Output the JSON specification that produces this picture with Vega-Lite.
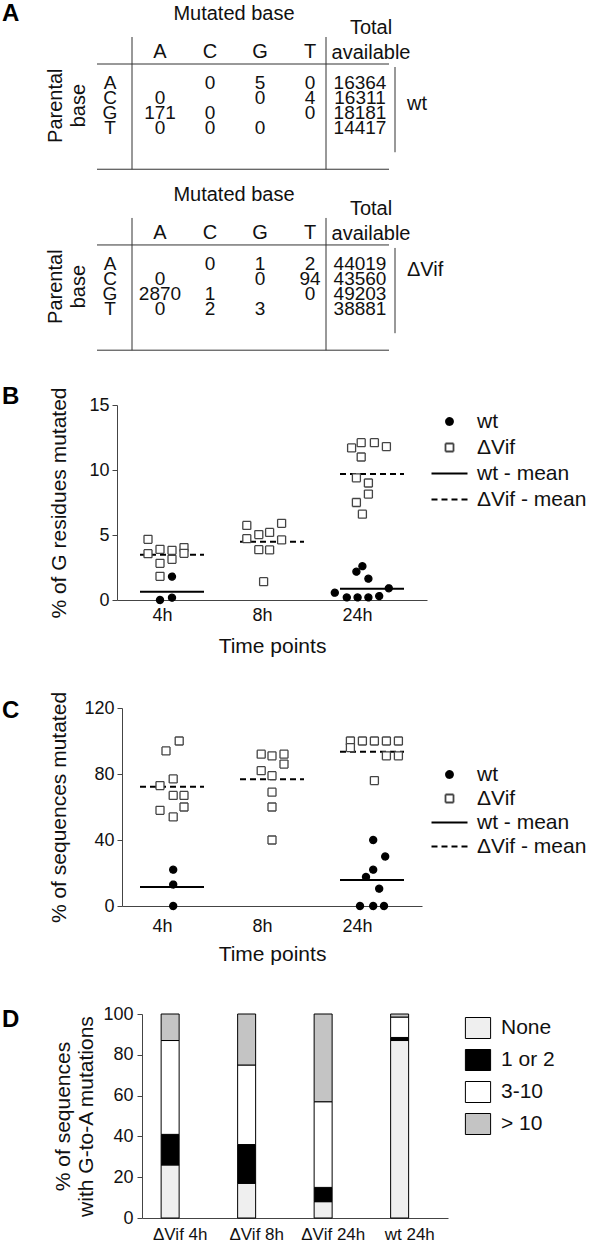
{
  "$schema": "https://vega.github.io/schema/vega-lite/v6.json",
  "padding": {"left": 2, "top": 0, "right": 0, "bottom": 0},
  "bounds": "flush",
  "spacing": 108,
  "resolve": {
    "scale": {"fill": "independent", "stroke": "independent", "shape": "independent", "strokeDash": "independent"},
    "legend": {"fill": "independent", "stroke": "independent", "shape": "independent", "strokeDash": "independent"}
  },
  "config": {
    "font": "Liberation Sans",
    "view": {"stroke": null},
    "axis": {"labelFont": "Liberation Sans", "titleFont": "Liberation Sans", "labelColor": "#111", "titleColor": "#111", "domainColor": "#444", "tickColor": "#444", "grid": false, "titleFontWeight": "normal", "labelFontSize": 18, "titleFontSize": 21},
    "legend": {"labelFont": "Liberation Sans", "labelColor": "#111"},
    "text": {"font": "Liberation Sans", "color": "#111"},
    "title": {"font": "Liberation Sans", "fontSize": 24, "fontWeight": "bold", "color": "#000"}
  },
  "datasets": {
    "tcells": [
      {"row": "wt A", "col": "C", "n": "0"}, {"row": "wt A", "col": "G", "n": "5"}, {"row": "wt A", "col": "T", "n": "0"}, {"row": "wt A", "col": "Tot", "n": "16364"},
      {"row": "wt C", "col": "A", "n": "0"}, {"row": "wt C", "col": "G", "n": "0"}, {"row": "wt C", "col": "T", "n": "4"}, {"row": "wt C", "col": "Tot", "n": "16311"},
      {"row": "wt G", "col": "A", "n": "171"}, {"row": "wt G", "col": "C", "n": "0"}, {"row": "wt G", "col": "T", "n": "0"}, {"row": "wt G", "col": "Tot", "n": "18181"},
      {"row": "wt T", "col": "A", "n": "0"}, {"row": "wt T", "col": "C", "n": "0"}, {"row": "wt T", "col": "G", "n": "0"}, {"row": "wt T", "col": "Tot", "n": "14417"},
      {"row": "ΔVif A", "col": "C", "n": "0"}, {"row": "ΔVif A", "col": "G", "n": "1"}, {"row": "ΔVif A", "col": "T", "n": "2"}, {"row": "ΔVif A", "col": "Tot", "n": "44019"},
      {"row": "ΔVif C", "col": "A", "n": "0"}, {"row": "ΔVif C", "col": "G", "n": "0"}, {"row": "ΔVif C", "col": "T", "n": "94"}, {"row": "ΔVif C", "col": "Tot", "n": "43560"},
      {"row": "ΔVif G", "col": "A", "n": "2870"}, {"row": "ΔVif G", "col": "C", "n": "1"}, {"row": "ΔVif G", "col": "T", "n": "0"}, {"row": "ΔVif G", "col": "Tot", "n": "49203"},
      {"row": "ΔVif T", "col": "A", "n": "0"}, {"row": "ΔVif T", "col": "C", "n": "2"}, {"row": "ΔVif T", "col": "G", "n": "3"}, {"row": "ΔVif T", "col": "Tot", "n": "38881"}
    ],
    "tlab": [
      {"kind": "hdr", "row": "wt A", "col": "A", "txt": "A"}, {"kind": "hdr", "row": "wt A", "col": "C", "txt": "C"}, {"kind": "hdr", "row": "wt A", "col": "G", "txt": "G"}, {"kind": "hdr", "row": "wt A", "col": "T", "txt": "T"},
      {"kind": "hdr", "row": "ΔVif A", "col": "A", "txt": "A"}, {"kind": "hdr", "row": "ΔVif A", "col": "C", "txt": "C"}, {"kind": "hdr", "row": "ΔVif A", "col": "G", "txt": "G"}, {"kind": "hdr", "row": "ΔVif A", "col": "T", "txt": "T"},
      {"kind": "rl", "row": "wt A", "col": "rl", "txt": "A"}, {"kind": "rl", "row": "wt C", "col": "rl", "txt": "C"}, {"kind": "rl", "row": "wt G", "col": "rl", "txt": "G"}, {"kind": "rl", "row": "wt T", "col": "rl", "txt": "T"},
      {"kind": "rl", "row": "ΔVif A", "col": "rl", "txt": "A"}, {"kind": "rl", "row": "ΔVif C", "col": "rl", "txt": "C"}, {"kind": "rl", "row": "ΔVif G", "col": "rl", "txt": "G"}, {"kind": "rl", "row": "ΔVif T", "col": "rl", "txt": "T"},
      {"kind": "tot", "row": "wt A", "col": "Tot", "txt": "Total\navailable"}, {"kind": "tot", "row": "ΔVif A", "col": "Tot", "txt": "Total\navailable"},
      {"kind": "mb", "row": "wt A", "col": "C", "txt": "Mutated base"}, {"kind": "mb", "row": "ΔVif A", "col": "C", "txt": "Mutated base"},
      {"kind": "pb", "row": "wt C", "col": "pb", "txt": "Parental\nbase"}, {"kind": "pb", "row": "ΔVif C", "col": "pb", "txt": "Parental\nbase"},
      {"kind": "grp", "row": "wt C", "col": "grp", "txt": "wt"}, {"kind": "grp", "row": "ΔVif A", "col": "grp", "txt": "ΔVif"}
    ],
    "tlines": [{"top": "wt A", "bot": "wt T"}, {"top": "ΔVif A", "bot": "ΔVif T"}],
    "bPts": [
      {"time": "4h", "series": "ΔVif", "slot": -2, "v": 4.67}, {"time": "4h", "series": "ΔVif", "slot": -2, "v": 3.56}, {"time": "4h", "series": "ΔVif", "slot": -1, "v": 3.9}, {"time": "4h", "series": "ΔVif", "slot": -1, "v": 2.82}, {"time": "4h", "series": "ΔVif", "slot": -1, "v": 1.82}, {"time": "4h", "series": "ΔVif", "slot": 0, "v": 3.82}, {"time": "4h", "series": "ΔVif", "slot": 0, "v": 3.13}, {"time": "4h", "series": "ΔVif", "slot": 1, "v": 4.03}, {"time": "4h", "series": "ΔVif", "slot": 1, "v": 3.59},
      {"time": "4h", "series": "wt", "slot": 0, "v": 1.8}, {"time": "4h", "series": "wt", "slot": -1, "v": 0}, {"time": "4h", "series": "wt", "slot": 0, "v": 0.18},
      {"time": "8h", "series": "ΔVif", "slot": -2.1, "v": 5.74}, {"time": "8h", "series": "ΔVif", "slot": -2.1, "v": 4.72}, {"time": "8h", "series": "ΔVif", "slot": -1.1, "v": 5.03}, {"time": "8h", "series": "ΔVif", "slot": -1.1, "v": 3.87}, {"time": "8h", "series": "ΔVif", "slot": -0.2, "v": 5.2}, {"time": "8h", "series": "ΔVif", "slot": -0.2, "v": 3.85}, {"time": "8h", "series": "ΔVif", "slot": -0.7, "v": 1.41}, {"time": "8h", "series": "ΔVif", "slot": 0.8, "v": 5.9}, {"time": "8h", "series": "ΔVif", "slot": 0.8, "v": 4.62},
      {"time": "24h", "series": "ΔVif", "slot": -1.7, "v": 11.7}, {"time": "24h", "series": "ΔVif", "slot": -0.9, "v": 12.1}, {"time": "24h", "series": "ΔVif", "slot": 0.2, "v": 12.1}, {"time": "24h", "series": "ΔVif", "slot": 1.2, "v": 11.8}, {"time": "24h", "series": "ΔVif", "slot": -0.9, "v": 11.0}, {"time": "24h", "series": "ΔVif", "slot": -1.3, "v": 9.4}, {"time": "24h", "series": "ΔVif", "slot": -0.3, "v": 9.0}, {"time": "24h", "series": "ΔVif", "slot": -0.3, "v": 8.15}, {"time": "24h", "series": "ΔVif", "slot": -1.3, "v": 7.5}, {"time": "24h", "series": "ΔVif", "slot": -0.8, "v": 6.6},
      {"time": "24h", "series": "wt", "slot": -1.3, "v": 2.18}, {"time": "24h", "series": "wt", "slot": -0.8, "v": 2.6}, {"time": "24h", "series": "wt", "slot": -0.3, "v": 1.64}, {"time": "24h", "series": "wt", "slot": 1.4, "v": 0.9}, {"time": "24h", "series": "wt", "slot": -3.1, "v": 0.56}, {"time": "24h", "series": "wt", "slot": -2.1, "v": 0.2}, {"time": "24h", "series": "wt", "slot": -1.2, "v": 0.2}, {"time": "24h", "series": "wt", "slot": -0.3, "v": 0.2}, {"time": "24h", "series": "wt", "slot": 0.6, "v": 0.3}
    ],
    "bMeans": [
      {"time": "4h", "series": "wt - mean", "v": 0.64}, {"time": "4h", "series": "ΔVif - mean", "v": 3.49},
      {"time": "8h", "series": "ΔVif - mean", "v": 4.49},
      {"time": "24h", "series": "wt - mean", "v": 0.87}, {"time": "24h", "series": "ΔVif - mean", "v": 9.7}
    ],
    "cPts": [
      {"time": "4h", "series": "ΔVif", "slot": 0.6, "v": 100}, {"time": "4h", "series": "ΔVif", "slot": -0.5, "v": 94}, {"time": "4h", "series": "ΔVif", "slot": 0.1, "v": 77}, {"time": "4h", "series": "ΔVif", "slot": -1, "v": 73}, {"time": "4h", "series": "ΔVif", "slot": 0.1, "v": 67}, {"time": "4h", "series": "ΔVif", "slot": 1, "v": 67}, {"time": "4h", "series": "ΔVif", "slot": 1, "v": 60}, {"time": "4h", "series": "ΔVif", "slot": -1, "v": 58}, {"time": "4h", "series": "ΔVif", "slot": 0.1, "v": 54},
      {"time": "4h", "series": "wt", "slot": 0.1, "v": 22}, {"time": "4h", "series": "wt", "slot": 0.1, "v": 13}, {"time": "4h", "series": "wt", "slot": 0.1, "v": 0},
      {"time": "8h", "series": "ΔVif", "slot": -0.9, "v": 92}, {"time": "8h", "series": "ΔVif", "slot": 0, "v": 91}, {"time": "8h", "series": "ΔVif", "slot": 1, "v": 92}, {"time": "8h", "series": "ΔVif", "slot": 1, "v": 86}, {"time": "8h", "series": "ΔVif", "slot": -0.9, "v": 82}, {"time": "8h", "series": "ΔVif", "slot": 0, "v": 79}, {"time": "8h", "series": "ΔVif", "slot": 0, "v": 69}, {"time": "8h", "series": "ΔVif", "slot": 0, "v": 60}, {"time": "8h", "series": "ΔVif", "slot": 0, "v": 40},
      {"time": "24h", "series": "ΔVif", "slot": -1.8, "v": 100}, {"time": "24h", "series": "ΔVif", "slot": -0.8, "v": 100}, {"time": "24h", "series": "ΔVif", "slot": 0.2, "v": 100}, {"time": "24h", "series": "ΔVif", "slot": 1.2, "v": 100}, {"time": "24h", "series": "ΔVif", "slot": 2.2, "v": 100}, {"time": "24h", "series": "ΔVif", "slot": -1.8, "v": 96}, {"time": "24h", "series": "ΔVif", "slot": 1.2, "v": 91}, {"time": "24h", "series": "ΔVif", "slot": 2.2, "v": 91}, {"time": "24h", "series": "ΔVif", "slot": 0.2, "v": 76},
      {"time": "24h", "series": "wt", "slot": 0.1, "v": 40}, {"time": "24h", "series": "wt", "slot": 1.1, "v": 30}, {"time": "24h", "series": "wt", "slot": 0.1, "v": 22}, {"time": "24h", "series": "wt", "slot": -0.5, "v": 17.6}, {"time": "24h", "series": "wt", "slot": 0.6, "v": 10.5}, {"time": "24h", "series": "wt", "slot": -1, "v": 0}, {"time": "24h", "series": "wt", "slot": 0.1, "v": 0}, {"time": "24h", "series": "wt", "slot": 1, "v": 0}
    ],
    "cMeans": [
      {"time": "4h", "series": "wt - mean", "v": 11.5}, {"time": "4h", "series": "ΔVif - mean", "v": 72.3},
      {"time": "8h", "series": "ΔVif - mean", "v": 76.8},
      {"time": "24h", "series": "wt - mean", "v": 15.8}, {"time": "24h", "series": "ΔVif - mean", "v": 93.5}
    ],
    "dBars": [
      {"grp": "ΔVif 4h", "cat": "None", "lo": 0, "hi": 26}, {"grp": "ΔVif 4h", "cat": "1 or 2", "lo": 26, "hi": 41}, {"grp": "ΔVif 4h", "cat": "3-10", "lo": 41, "hi": 87}, {"grp": "ΔVif 4h", "cat": "> 10", "lo": 87, "hi": 100},
      {"grp": "ΔVif 8h", "cat": "None", "lo": 0, "hi": 17}, {"grp": "ΔVif 8h", "cat": "1 or 2", "lo": 17, "hi": 36}, {"grp": "ΔVif 8h", "cat": "3-10", "lo": 36, "hi": 75}, {"grp": "ΔVif 8h", "cat": "> 10", "lo": 75, "hi": 100},
      {"grp": "ΔVif 24h", "cat": "None", "lo": 0, "hi": 8}, {"grp": "ΔVif 24h", "cat": "1 or 2", "lo": 8, "hi": 15}, {"grp": "ΔVif 24h", "cat": "3-10", "lo": 15, "hi": 57}, {"grp": "ΔVif 24h", "cat": "> 10", "lo": 57, "hi": 100},
      {"grp": "wt 24h", "cat": "None", "lo": 0, "hi": 87}, {"grp": "wt 24h", "cat": "1 or 2", "lo": 87, "hi": 88.5}, {"grp": "wt 24h", "cat": "3-10", "lo": 88.5, "hi": 98.5}, {"grp": "wt 24h", "cat": "> 10", "lo": 98.5, "hi": 100}
    ]
  },
  "vconcat": [
    {
      "width": 310,
      "height": 297,
      "title": {"text": "A", "anchor": "start", "frame": "group", "dx": -115, "offset": -26},
      "layer": [
        {
          "data": {"name": "tcells"},
          "mark": {"type": "text", "fontSize": 19, "align": "center", "baseline": "middle"},
          "encoding": {
            "x": {"field": "col", "type": "nominal", "scale": {"type": "point", "domain": ["pb", "rl", "A", "C", "G", "T", "Tot", "grp"], "range": [-57, 293], "padding": 0}, "axis": null},
            "y": {"field": "row", "type": "nominal", "scale": {"type": "point", "domain": ["wt A", "wt C", "wt G", "wt T", "s1", "s2", "s3", "s4", "s5", "s6", "s7", "s8", "ΔVif A", "ΔVif C", "ΔVif G", "ΔVif T"], "range": [83, 309.2], "padding": 0}, "axis": null},
            "text": {"field": "n"}
          }
        },
        {
          "data": {"name": "tlab"},
          "transform": [{"filter": "datum.kind == 'rl'"}],
          "mark": {"type": "text", "fontSize": 19, "align": "center", "baseline": "middle"},
          "encoding": {"x": {"field": "col", "type": "nominal"}, "y": {"field": "row", "type": "nominal"}, "text": {"field": "txt"}}
        },
        {
          "data": {"name": "tlab"},
          "transform": [{"filter": "datum.kind == 'hdr'"}],
          "mark": {"type": "text", "fontSize": 20, "align": "center", "baseline": "middle", "dy": -31},
          "encoding": {"x": {"field": "col", "type": "nominal"}, "y": {"field": "row", "type": "nominal"}, "text": {"field": "txt"}}
        },
        {
          "data": {"name": "tlab"},
          "transform": [{"filter": "datum.kind == 'tot'"}],
          "mark": {"type": "text", "fontSize": 20, "align": "center", "baseline": "middle", "lineBreak": "\n", "lineHeight": 25, "dx": 11, "dy": -55},
          "encoding": {"x": {"field": "col", "type": "nominal"}, "y": {"field": "row", "type": "nominal"}, "text": {"field": "txt"}}
        },
        {
          "data": {"name": "tlab"},
          "transform": [{"filter": "datum.kind == 'mb'"}],
          "mark": {"type": "text", "fontSize": 20, "align": "center", "baseline": "middle", "dx": 24, "dy": -69},
          "encoding": {"x": {"field": "col", "type": "nominal"}, "y": {"field": "row", "type": "nominal"}, "text": {"field": "txt"}}
        },
        {
          "data": {"name": "tlab"},
          "transform": [{"filter": "datum.kind == 'pb'"}],
          "mark": {"type": "text", "fontSize": 20, "align": "center", "baseline": "middle", "angle": 270, "lineBreak": "\n", "lineHeight": 23, "dx": -7.6, "dy": -4.5},
          "encoding": {"x": {"field": "col", "type": "nominal"}, "y": {"field": "row", "type": "nominal"}, "text": {"field": "txt"}}
        },
        {
          "data": {"name": "tlab"},
          "transform": [{"filter": "datum.kind == 'grp'"}],
          "mark": {"type": "text", "fontSize": 20, "align": "left", "baseline": "middle", "dx": -3, "dy": 6},
          "encoding": {"x": {"field": "col", "type": "nominal"}, "y": {"field": "row", "type": "nominal"}, "text": {"field": "txt"}}
        },
        {
          "data": {"name": "tlines"},
          "mark": {"type": "rule", "stroke": "#333", "strokeWidth": 1, "xOffset": -13, "x2Offset": 29, "yOffset": -19},
          "encoding": {"x": {"datum": "rl", "type": "nominal"}, "x2": {"datum": "Tot"}, "y": {"field": "top", "type": "nominal"}}
        },
        {
          "data": {"name": "tlines"},
          "mark": {"type": "rule", "stroke": "#333", "strokeWidth": 1, "xOffset": -13, "x2Offset": 29, "yOffset": 41},
          "encoding": {"x": {"datum": "rl", "type": "nominal"}, "x2": {"datum": "Tot"}, "y": {"field": "bot", "type": "nominal"}}
        },
        {
          "data": {"name": "tlines"},
          "mark": {"type": "rule", "stroke": "#333", "strokeWidth": 1, "xOffset": 22, "yOffset": -46, "y2Offset": 41},
          "encoding": {"x": {"datum": "rl", "type": "nominal"}, "y": {"field": "top", "type": "nominal"}, "y2": {"field": "bot"}}
        },
        {
          "data": {"name": "tlines"},
          "mark": {"type": "rule", "stroke": "#333", "strokeWidth": 1, "xOffset": 16, "yOffset": -46, "y2Offset": 41},
          "encoding": {"x": {"datum": "T", "type": "nominal"}, "y": {"field": "top", "type": "nominal"}, "y2": {"field": "bot"}}
        },
        {
          "data": {"name": "tlines"},
          "mark": {"type": "rule", "stroke": "#333", "strokeWidth": 1, "xOffset": -15, "yOffset": -16, "y2Offset": 24},
          "encoding": {"x": {"datum": "grp", "type": "nominal"}, "y": {"field": "top", "type": "nominal"}, "y2": {"field": "bot"}}
        }
      ]
    },
    {
      "width": 310,
      "height": 195,
      "title": {"text": "B", "anchor": "start", "frame": "group", "dx": -115, "offset": -22},
      "layer": [
        {
          "data": {"name": "bMeans"},
          "mark": {"type": "rule", "stroke": "black", "strokeWidth": 2, "xOffset": -32, "x2Offset": 32},
          "encoding": {
            "x": {"field": "time", "type": "nominal"},
            "x2": {"field": "time"},
            "y": {"field": "v", "type": "quantitative"},
            "strokeDash": {"field": "series", "type": "nominal"}
          }
        },
        {
          "data": {"name": "bPts"},
          "mark": {"type": "point", "size": 100, "strokeWidth": 1.3, "opacity": 1},
          "encoding": {
            "x": {"field": "time", "type": "nominal", "sort": ["4h", "8h", "24h"], "scale": {"type": "point", "domain": ["4h", "8h", "24h"], "padding": 0.55}, "axis": {"title": "Time points", "labelAngle": 0, "ticks": false, "tickSize": 0, "labelPadding": 15, "titlePadding": 11}},
            "xOffset": {"field": "slot", "type": "quantitative", "scale": {"domain": [-4, 4], "range": [-48, 48]}},
            "y": {"field": "v", "type": "quantitative", "scale": {"domain": [0, 15], "nice": false}, "axis": {"values": [0, 5, 10, 15], "title": "% of G residues mutated", "tickSize": 5, "labelPadding": 3, "titlePadding": 19}},
            "shape": {"field": "series", "type": "nominal", "scale": {"domain": ["wt", "ΔVif", "wt - mean", "ΔVif - mean"], "range": ["M0.7,0A0.7,0.7,0,1,1,-0.7,0A0.7,0.7,0,1,1,0.7,0Z", "M-0.8,-0.8H0.8V0.8H-0.8Z", "M-3.6,0H3.6", "M-3.6,0H3.6"]}, "legend": {"title": null, "orient": "none", "legendX": 322, "legendY": 6, "labelFontSize": 21, "labelOffset": 17, "rowPadding": 4, "padding": 0, "symbolStrokeWidth": 1.8, "symbolSize": 100}},
            "fill": {"field": "series", "type": "nominal", "scale": {"domain": ["wt", "ΔVif", "wt - mean", "ΔVif - mean"], "range": ["black", "white", "transparent", "transparent"]}, "legend": {"title": null, "orient": "none", "legendX": 322, "legendY": 6, "labelFontSize": 21, "labelOffset": 17, "rowPadding": 4, "padding": 0, "symbolStrokeWidth": 1.8, "symbolSize": 100}},
            "stroke": {"field": "series", "type": "nominal", "scale": {"domain": ["wt", "ΔVif", "wt - mean", "ΔVif - mean"], "range": ["black", "#444", "black", "black"]}, "legend": {"title": null, "orient": "none", "legendX": 322, "legendY": 6, "labelFontSize": 21, "labelOffset": 17, "rowPadding": 4, "padding": 0, "symbolStrokeWidth": 1.8, "symbolSize": 100}},
            "strokeDash": {"field": "series", "type": "nominal", "scale": {"domain": ["wt", "ΔVif", "wt - mean", "ΔVif - mean"], "range": [[1, 0], [1, 0], [1, 0], [6, 4]]}, "legend": {"title": null, "orient": "none", "legendX": 322, "legendY": 6, "labelFontSize": 21, "labelOffset": 17, "rowPadding": 4, "padding": 0, "symbolStrokeWidth": 1.8, "symbolSize": 100}}
          }
        }
      ]
    },
    {
      "width": 310,
      "height": 198,
      "title": {"text": "C", "anchor": "start", "frame": "group", "dx": -115, "offset": -32},
      "layer": [
        {
          "data": {"name": "cMeans"},
          "mark": {"type": "rule", "stroke": "black", "strokeWidth": 2, "xOffset": -32, "x2Offset": 32},
          "encoding": {
            "x": {"field": "time", "type": "nominal"},
            "x2": {"field": "time"},
            "y": {"field": "v", "type": "quantitative"},
            "strokeDash": {"field": "series", "type": "nominal"}
          }
        },
        {
          "data": {"name": "cPts"},
          "mark": {"type": "point", "size": 100, "strokeWidth": 1.3, "opacity": 1},
          "encoding": {
            "x": {"field": "time", "type": "nominal", "sort": ["4h", "8h", "24h"], "scale": {"type": "point", "domain": ["4h", "8h", "24h"], "padding": 0.5, "range": [5, 305]}, "axis": {"title": "Time points", "labelAngle": 0, "ticks": false, "tickSize": 0, "labelPadding": 20, "titlePadding": 8}},
            "xOffset": {"field": "slot", "type": "quantitative", "scale": {"domain": [-4, 4], "range": [-48, 48]}},
            "y": {"field": "v", "type": "quantitative", "scale": {"domain": [0, 120], "nice": false}, "axis": {"values": [0, 40, 80, 120], "title": "% of sequences mutated", "offset": -5, "tickSize": 5, "labelPadding": 3, "titlePadding": 14}},
            "shape": {"field": "series", "type": "nominal", "scale": {"domain": ["wt", "ΔVif", "wt - mean", "ΔVif - mean"], "range": ["M0.7,0A0.7,0.7,0,1,1,-0.7,0A0.7,0.7,0,1,1,0.7,0Z", "M-0.8,-0.8H0.8V0.8H-0.8Z", "M-3.6,0H3.6", "M-3.6,0H3.6"]}, "legend": {"title": null, "orient": "none", "legendX": 322, "legendY": 56, "labelFontSize": 21, "labelOffset": 17, "rowPadding": 2, "padding": 0, "symbolStrokeWidth": 1.8, "symbolSize": 100}},
            "fill": {"field": "series", "type": "nominal", "scale": {"domain": ["wt", "ΔVif", "wt - mean", "ΔVif - mean"], "range": ["black", "white", "transparent", "transparent"]}, "legend": {"title": null, "orient": "none", "legendX": 322, "legendY": 56, "labelFontSize": 21, "labelOffset": 17, "rowPadding": 2, "padding": 0, "symbolStrokeWidth": 1.8, "symbolSize": 100}},
            "stroke": {"field": "series", "type": "nominal", "scale": {"domain": ["wt", "ΔVif", "wt - mean", "ΔVif - mean"], "range": ["black", "#444", "black", "black"]}, "legend": {"title": null, "orient": "none", "legendX": 322, "legendY": 56, "labelFontSize": 21, "labelOffset": 17, "rowPadding": 2, "padding": 0, "symbolStrokeWidth": 1.8, "symbolSize": 100}},
            "strokeDash": {"field": "series", "type": "nominal", "scale": {"domain": ["wt", "ΔVif", "wt - mean", "ΔVif - mean"], "range": [[1, 0], [1, 0], [1, 0], [6, 4]]}, "legend": {"title": null, "orient": "none", "legendX": 322, "legendY": 56, "labelFontSize": 21, "labelOffset": 17, "rowPadding": 2, "padding": 0, "symbolStrokeWidth": 1.8, "symbolSize": 100}}
          }
        }
      ]
    },
    {
      "width": 331,
      "height": 204,
      "title": {"text": "D", "anchor": "start", "frame": "group", "dx": -115, "offset": -27},
      "data": {"name": "dBars"},
      "mark": {"type": "bar", "stroke": "black", "strokeWidth": 1},
      "encoding": {
        "x": {"field": "grp", "type": "nominal", "sort": ["ΔVif 4h", "ΔVif 8h", "ΔVif 24h", "wt 24h"], "scale": {"range": [25, 331], "paddingInner": 0.5, "paddingOuter": 0.25}, "axis": {"title": null, "labelAngle": 0, "ticks": false, "tickSize": 0, "labelPadding": 8, "labelFontSize": 17}},
        "y": {"field": "lo", "type": "quantitative", "scale": {"domain": [0, 100], "nice": false}, "axis": {"values": [0, 20, 40, 60, 80, 100], "title": ["% of sequences", "with G-to-A mutations"], "offset": -25, "tickSize": 5, "labelPadding": 4, "titlePadding": 6, "titleLineHeight": 23}},
        "y2": {"field": "hi"},
        "fill": {"field": "cat", "type": "nominal", "scale": {"domain": ["None", "1 or 2", "3-10", "> 10"], "range": ["#efefef", "#000000", "#ffffff", "#c4c4c4"]}, "legend": {"title": null, "orient": "none", "legendX": 350, "legendY": 3, "symbolType": "M-1.2,-1H1.2V1H-1.2Z", "symbolSize": 441, "symbolStrokeColor": "black", "symbolStrokeWidth": 1, "labelFontSize": 21, "labelOffset": 12, "rowPadding": 6, "padding": 0}}
      }
    }
  ]
}
